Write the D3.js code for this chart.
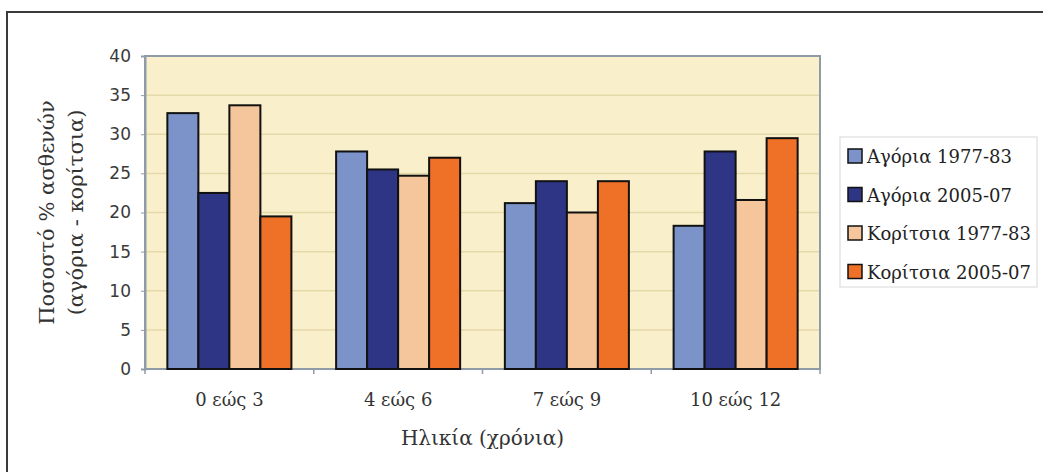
<!DOCTYPE html>
<html><head><meta charset="utf-8">
<script src="https://cdn.jsdelivr.net/npm/d3@7"></script>
<style>body{margin:0;background:#fff}</style>
</head><body>
<script>
const categories = ["0 εώς 3", "4 εώς 6", "7 εώς 9", "10 εώς 12"];
const seriesNames = ["Αγόρια 1977-83", "Αγόρια 2005-07", "Κορίτσια 1977-83", "Κορίτσια 2005-07"];
const boys1977 = [32.7, 27.8, 21.2, 18.3];
const boys2005 = [22.5, 25.5, 24.0, 27.8];
const girls1977 = [33.7, 24.7, 20.0, 21.6];
const girls2005 = [19.5, 27.0, 24.0, 29.5];
const yTicks = [0, 5, 10, 15, 20, 25, 30, 35, 40];
const colors = ["#7b93c9", "#2e3585", "#f5c69b", "#ee7127"];

const series = [boys1977, boys2005, girls1977, girls2005];
const W = 1043, H = 472;
const SERIF = "DejaVu Serif";
const svg = d3.select("body").append("svg").attr("width", W).attr("height", H);

// outer frame
svg.append("rect").attr("x", 7).attr("y", 12).attr("width", 1200).attr("height", 600)
  .attr("fill", "#fff").attr("stroke", "#3a3a3a").attr("stroke-width", 2);

const L = 145, R = 820, T = 56, B = 369;
const x0 = d3.scaleBand().domain(categories).range([L, R]).paddingInner(0.265).paddingOuter(0.1325);
const x1 = d3.scaleBand().domain(d3.range(4)).range([0, x0.bandwidth()]);
const y = d3.scaleLinear().domain([0, 40]).range([B, T]);

svg.append("rect").attr("x", L).attr("y", T).attr("width", R - L).attr("height", B - T)
  .attr("fill", "#f9f0cb");
svg.append("g").selectAll("line").data(yTicks.filter(d => d > 0 && d < 40)).join("line")
  .attr("x1", L).attr("x2", R).attr("y1", d => y(d)).attr("y2", d => y(d))
  .attr("stroke", "#e6d9a9").attr("stroke-width", 1.5);
svg.append("rect").attr("x", L).attr("y", T).attr("width", R - L).attr("height", B - T)
  .attr("fill", "none").attr("stroke", "#8f9ba6").attr("stroke-width", 2);

// y axis
const yAxis = svg.append("g").attr("transform", `translate(${L},0)`)
  .call(d3.axisLeft(y).tickValues(yTicks).tickSize(4).tickPadding(10));
yAxis.select(".domain").attr("stroke", "#8f9ba6").attr("stroke-width", 2);
yAxis.selectAll(".tick line").attr("stroke", "#8f9ba6");
yAxis.selectAll("text").attr("font-family", "DejaVu Sans").attr("font-size", 17).attr("fill", "#3a3a3a");

// x axis
const bounds = categories.map((c, i) => L + i * (R - L) / 4).concat([R]);
svg.append("g").selectAll("line").data(bounds).join("line")
  .attr("x1", d => d).attr("x2", d => d).attr("y1", B).attr("y2", B + 5)
  .attr("stroke", "#8f9ba6").attr("stroke-width", 1.5);
svg.append("line").attr("x1", L).attr("x2", R).attr("y1", B).attr("y2", B)
  .attr("stroke", "#8f9ba6").attr("stroke-width", 2);
svg.append("g").selectAll("text").data(categories).join("text")
  .attr("x", d => x0(d) + x0.bandwidth() / 2).attr("y", 406)
  .attr("text-anchor", "middle").attr("font-family", SERIF).attr("font-size", 18)
  .attr("fill", "#333").text(d => d);

// bars
const g = svg.append("g");
categories.forEach((c, ci) => {
  g.append("g").attr("transform", `translate(${x0(c)},0)`)
    .selectAll("rect").data(series.map((s, si) => ({ si, v: s[ci] }))).join("rect")
    .attr("x", d => x1(d.si)).attr("width", x1.bandwidth())
    .attr("y", d => y(d.v)).attr("height", d => y(0) - y(d.v))
    .attr("fill", d => colors[d.si]).attr("stroke", "#111").attr("stroke-width", 2);
});

// axis titles
svg.append("text").attr("x", (L + R) / 2).attr("y", 445).attr("text-anchor", "middle")
  .attr("font-family", SERIF).attr("font-size", 20).attr("fill", "#333")
  .text("Ηλικία (χρόνια)");
const yt = svg.append("text").attr("transform", `translate(0,${(T + B) / 2}) rotate(-90)`)
  .attr("text-anchor", "middle").attr("font-family", SERIF).attr("font-size", 21).attr("fill", "#333");
yt.append("tspan").attr("x", 0).attr("y", 54).text("Ποσοστό % ασθενών");
yt.append("tspan").attr("x", 0).attr("y", 83).text("(αγόρια - κορίτσια)");

// legend
svg.append("rect").attr("x", 840).attr("y", 137).attr("width", 197).attr("height", 150)
  .attr("fill", "#fff").attr("stroke", "#d8d8d8").attr("stroke-width", 1);
const lg = svg.append("g").selectAll("g").data(seriesNames).join("g")
  .attr("transform", (d, i) => `translate(848,${156 + i * 38.5})`);
lg.append("rect").attr("x", 0).attr("y", -7).attr("width", 14).attr("height", 14)
  .attr("fill", (d, i) => colors[i]).attr("stroke", "#111").attr("stroke-width", 1.5);
lg.append("text").attr("x", 19).attr("y", 7).attr("font-family", SERIF).attr("font-size", 18)
  .attr("fill", "#222").text(d => d);
</script>
</body></html>
